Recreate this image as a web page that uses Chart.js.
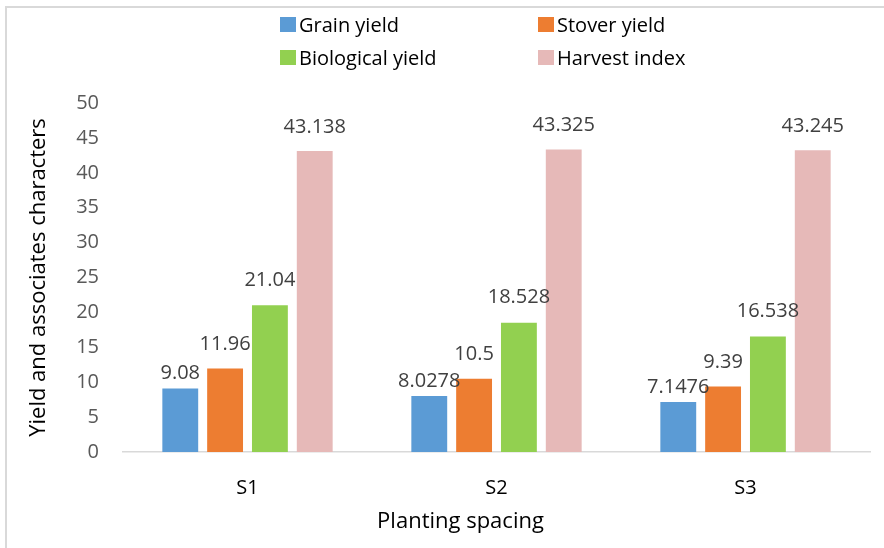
<!DOCTYPE html>
<html>
<head>
<meta charset="utf-8">
<script src="https://cdn.jsdelivr.net/npm/chart.js@4"></script>
<style>
  body { margin:0; background:#fff; font-family:"Open Sans", sans-serif; }
  .frame { position:absolute; left:5px; top:6px; width:920px; height:600px; border:2px solid #d9d9d9; }
  #chart { position:absolute; left:0; top:0; }
  .legend { position:absolute; left:280px; top:8px; display:grid; grid-template-columns:258px 200px; grid-auto-rows:33px; }
  .legend .item { display:flex; align-items:center; font-size:20px; color:#000; white-space:nowrap; }
  .legend .box { width:16px; height:15px; margin-right:3px; }
</style>
</head>
<body>
<div class="frame"></div>
<canvas id="chart" width="884" height="548"></canvas>
<div class="legend" id="legend"></div>
<script>
const spacings = ['S1', 'S2', 'S3'];
const grainYield = [9.08, 8.0278, 7.1476];
const stoverYield = [11.96, 10.5, 9.39];
const biologicalYield = [21.04, 18.528, 16.538];
const harvestIndex = [43.138, 43.325, 43.245];
const yTicks = [0, 5, 10, 15, 20, 25, 30, 35, 40, 45, 50];
const xTitle = 'Planting spacing';

const ctx = document.getElementById('chart');

// value labels above each bar
const barLabels = {
  id: 'barLabels',
  afterDatasetsDraw(chart) {
    const c = chart.ctx;
    c.save();
    c.font = '20px "Open Sans"';
    c.fillStyle = '#404040';
    c.textAlign = 'center';
    c.textBaseline = 'middle';
    chart.data.datasets.forEach((ds, i) => {
      chart.getDatasetMeta(i).data.forEach((bar, j) => {
        c.fillText(String(ds.data[j]), bar.x, bar.y - ds.labelGap);
      });
    });
    c.restore();
  }
};

// x axis title sits a bit left of the plot centre in the original
const xTitlePlugin = {
  id: 'xTitlePlugin',
  afterDraw(chart) {
    const c = chart.ctx;
    const a = chart.chartArea;
    c.save();
    c.font = '22px "Open Sans"';
    c.fillStyle = '#000';
    c.textAlign = 'center';
    c.textBaseline = 'middle';
    c.fillText(xTitle, (a.left + a.right) / 2 - 36, 522);
    c.restore();
  }
};

const chart = new Chart(ctx, {
  type: 'bar',
  data: {
    labels: spacings,
    datasets: [
      { label: 'Grain yield', data: grainYield, backgroundColor: '#5B9BD5', labelGap: 15 },
      { label: 'Stover yield', data: stoverYield, backgroundColor: '#ED7D31', labelGap: 24 },
      { label: 'Biological yield', data: biologicalYield, backgroundColor: '#92D050', labelGap: 25 },
      { label: 'Harvest index', data: harvestIndex, backgroundColor: '#E6B9B8', labelGap: 24 }
    ]
  },
  options: {
    responsive: false,
    animation: false,
    categoryPercentage: 0.72,
    barPercentage: 0.8,
    layout: { padding: { top: 103, right: 14, left: 0, bottom: 0 } },
    plugins: { legend: { display: false }, tooltip: { enabled: false } },
    scales: {
      x: {
        grid: { display: false, drawTicks: false },
        border: { display: true, color: '#d9d9d9', width: 1.5 },
        ticks: { color: '#000', font: { family: 'Open Sans', size: 20 }, padding: 24 },
        afterFit(scale) { scale.height = 96; }
      },
      y: {
        min: 0, max: 50,
        grid: { display: false, drawTicks: false },
        border: { display: false },
        afterBuildTicks(scale) { scale.ticks = yTicks.map(v => ({ value: v })); },
        ticks: { color: '#595959', font: { family: 'Open Sans', size: 20 }, padding: 24 },
        title: { display: true, text: 'Yield and associates characters', color: '#000',
                 font: { family: 'Open Sans', size: 22 }, padding: { top: 26 } },
        afterFit(scale) { scale.width = 123; }
      }
    }
  },
  plugins: [barLabels, xTitlePlugin]
});

// html legend, two per row like the original
const legend = document.getElementById('legend');
chart.data.datasets.forEach(ds => {
  const item = document.createElement('div');
  item.className = 'item';
  const box = document.createElement('span');
  box.className = 'box';
  box.style.background = ds.backgroundColor;
  item.appendChild(box);
  item.appendChild(document.createTextNode(ds.label));
  legend.appendChild(item);
});
</script>
</body>
</html>
